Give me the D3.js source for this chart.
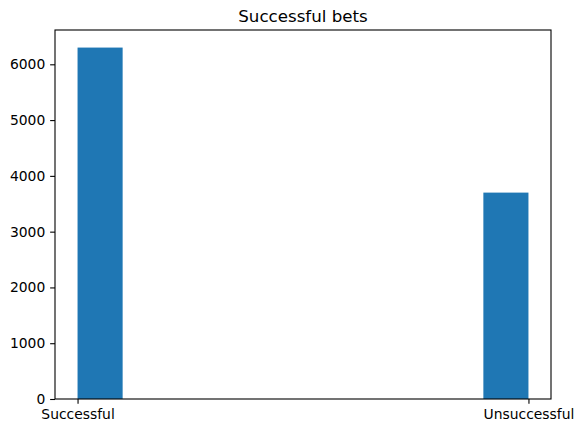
<!DOCTYPE html>
<html><head><meta charset="utf-8">
<script src="https://cdn.jsdelivr.net/npm/d3@7"></script>
<style>body{margin:0;background:#fff}svg{display:block}text{font-family:"DejaVu Sans",sans-serif;fill:#000}</style>
</head><body>
<script>
const title = "Successful bets";
const categories = ["Successful", "Unsuccessful"];
const counts = [6300, 3700];
const yTicks = [0, 1000, 2000, 3000, 4000, 5000, 6000];
const numBins = 10;

const W = 583, H = 433;
const m = {left: 55, right: 32, top: 30, bottom: 34};
const iw = W - m.left - m.right, ih = H - m.top - m.bottom;

// build histogram bins over category indices (like matplotlib hist on strings)
const lo = 0, hi = categories.length - 1;
const bw = (hi - lo) / numBins;
const bins = d3.range(numBins).map(i => ({x0: lo + i * bw, x1: lo + (i + 1) * bw, n: 0}));
categories.forEach((c, i) => {
  let b = Math.floor((i - lo) / bw); if (b >= numBins) b = numBins - 1;
  bins[b].n += counts[i];
});
const ymax = d3.max(bins, b => b.n);

const x = d3.scaleLinear().domain([lo - 0.05 * (hi - lo), hi + 0.05 * (hi - lo)]).range([0, iw]);
const y = d3.scaleLinear().domain([0, ymax * 1.05]).range([ih, 0]);

const svg = d3.select("body").append("svg").attr("width", W).attr("height", H);
const g = svg.append("g").attr("transform", `translate(${m.left},${m.top})`);

g.selectAll("rect.bar").data(bins.filter(b => b.n > 0)).join("rect")
  .attr("class", "bar")
  .attr("x", d => x(d.x0)).attr("width", d => x(d.x1) - x(d.x0))
  .attr("y", d => y(d.n)).attr("height", d => y(0) - y(d.n))
  .attr("fill", "#1f77b4");

const fs = 13.89;
const yAx = g.append("g").call(d3.axisLeft(y).tickValues(yTicks).tickSize(4.86).tickPadding(4.86).tickFormat(d3.format("d")));
const xAx = g.append("g").attr("transform", `translate(0,${ih})`)
  .call(d3.axisBottom(x).tickValues(categories.map((c, i) => i)).tickSize(4.86).tickPadding(4.86).tickFormat(i => categories[i]));
[yAx, xAx].forEach(a => {
  a.select(".domain").remove();
  a.selectAll("line").attr("stroke", "#000").attr("stroke-width", 1.1);
  a.selectAll("text").attr("font-size", fs).attr("font-family", "DejaVu Sans").attr("fill", "#000");
});
xAx.selectAll("text").attr("dy", "0.76em");

g.append("rect").attr("x", 0).attr("y", 0).attr("width", iw).attr("height", ih)
  .attr("fill", "none").attr("stroke", "#000").attr("stroke-width", 1.1);

svg.append("text").attr("x", m.left + iw / 2).attr("y", m.top - 8.3)
  .attr("text-anchor", "middle").attr("font-size", 16.67).text(title);
</script>
</body></html>
